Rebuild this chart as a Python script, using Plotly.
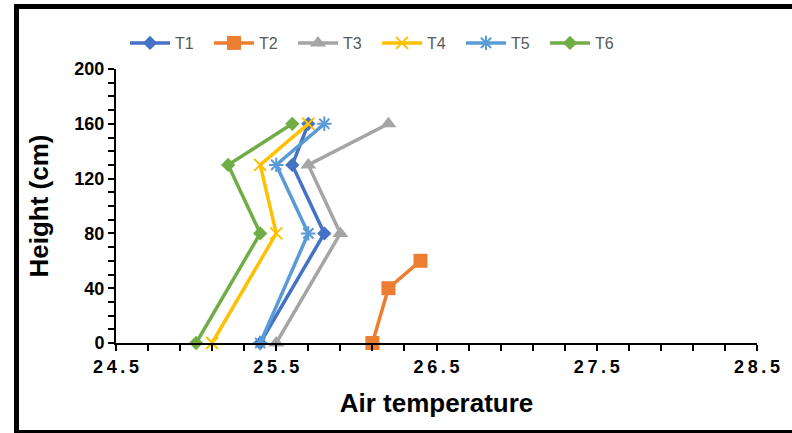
import plotly.graph_objects as go

heights = [0, 80, 130, 160]
heights_t2 = [0, 40, 60]
t1 = [25.4, 25.8, 25.6, 25.7]
t2 = [26.1, 26.2, 26.4]
t3 = [25.5, 25.9, 25.7, 26.2]
t4 = [25.1, 25.5, 25.4, 25.7]
t5 = [25.4, 25.7, 25.5, 25.8]
t6 = [25.0, 25.4, 25.2, 25.6]
x_ticks = [24.5, 25.5, 26.5, 27.5, 28.5]
y_ticks = [0, 40, 80, 120, 160, 200]

series = [
    ("T1", t1, heights, "#4472C4", dict(symbol="diamond", size=11)),
    ("T2", t2, heights_t2, "#ED7D31", dict(symbol="square", size=14)),
    ("T3", t3, heights, "#A5A5A5", dict(symbol="triangle-up", size=14)),
    ("T4", t4, heights, "#FFC000", dict(symbol="x-thin", size=12, line=dict(width=2, color="#FFC000"))),
    ("T5", t5, heights, "#5B9BD5", dict(symbol="asterisk", size=12, line=dict(width=2, color="#5B9BD5"))),
    ("T6", t6, heights, "#70AD47", dict(symbol="diamond", size=11)),
]

fig = go.Figure()
for name, xs, ys, color, mk in series:
    fig.add_trace(go.Scatter(x=xs, y=ys, name=name, mode="lines+markers",
                             line=dict(color=color, width=3.5),
                             marker=dict(color=color, **mk), cliponaxis=False))

L, R, T, B = 116, 35, 69, 90
W, H = 792, 433
pw, ph = W - L - R, H - T - B

def px(x):
    return (x - L) / pw

def py(y):
    return (H - B - y) / ph

def spaced(s):
    return "\u2009".join(s)

fig.update_layout(
    width=W, height=H, margin=dict(l=L, r=R, t=T, b=B),
    paper_bgcolor="white", plot_bgcolor="white",
    font=dict(family="Liberation Sans", color="black"),
    showlegend=True,
    legend=dict(orientation="h", x=px(125), y=py(43), yanchor="middle", xanchor="left",
                font=dict(family="Liberation Sans", size=16, color="#595959"),
                entrywidth=29, entrywidthmode="pixels", itemwidth=40,
                bgcolor="rgba(0,0,0,0)"),
    xaxis=dict(range=[24.5, 28.5], tickvals=x_ticks, ticktext=[spaced(f"{v:.1f}") for v in x_ticks],
               showgrid=False, zeroline=False, showline=True, linecolor="black", linewidth=2,
               ticks="outside", ticklen=6, tickwidth=2, tickcolor="black",
               minor=dict(dtick=0.2, tick0=24.5, ticks="outside", ticklen=6, tickwidth=2, tickcolor="black"),
               tickfont=dict(size=18, family="Liberation Sans", weight="bold"),
               title=dict(text="<b>Air temperature</b>", font=dict(size=26), standoff=18)),
    yaxis=dict(range=[0, 200], tickvals=y_ticks,
               showgrid=False, zeroline=False, showline=True, linecolor="black", linewidth=2,
               ticks="outside", ticklen=6, tickwidth=2, tickcolor="black",
               minor=dict(dtick=10, ticks="outside", ticklen=6, tickwidth=2, tickcolor="black"),
               tickfont=dict(size=18, family="Liberation Sans", weight="bold"),
               title=dict(text="<b>Height (cm)</b>", font=dict(size=26), standoff=18)),
)

# frame around the image
fig.add_shape(type="line", xref="paper", yref="paper", x0=px(16.5), x1=px(16.5), y0=py(431.5), y1=py(6.5),
              line=dict(color="black", width=5))
fig.add_shape(type="line", xref="paper", yref="paper", x0=px(14), x1=px(792), y0=py(6.5), y1=py(6.5),
              line=dict(color="black", width=5))
fig.add_shape(type="line", xref="paper", yref="paper", x0=px(14), x1=px(792), y0=py(431.5), y1=py(431.5),
              line=dict(color="black", width=3))

fig.write_html("out.html", config={"displayModeBar": False},
               post_script="document.body.style.margin='0px';document.body.style.overflow='hidden';")
